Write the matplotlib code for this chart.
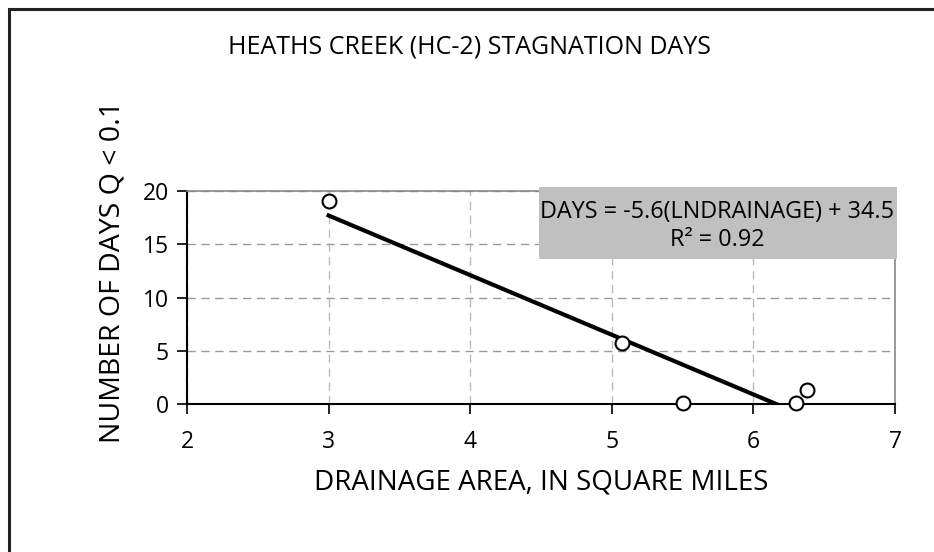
import matplotlib
matplotlib.use("Agg")
import matplotlib.pyplot as plt
from matplotlib.patches import Rectangle
import numpy as np

# drainage area (sq mi) vs number of days with Q < 0.1
drainage = [3.0, 5.07, 5.5, 6.3, 6.38]
days = [19.1, 5.75, 0.05, 0.05, 1.3]

# fitted line shown on the chart
fit_slope = -5.6
fit_intercept = 34.5
fit_x_start = 3.0

xticks = [2, 3, 4, 5, 6, 7]
yticks = [0, 5, 10, 15, 20]

plt.rcParams['font.family'] = ['Open Sans', 'DejaVu Sans']

fig = plt.figure(figsize=(9.34, 5.52), dpi=100)
ax = fig.add_axes([187 / 934, 1 - 404 / 552, (895 - 187) / 934, (404 - 191) / 552])

# outer frame (only top and left visible in the original)
fig.patches.append(Rectangle((9 / 934, -0.1), 1.2, 1 - 9 / 552 + 0.1,
                             transform=fig.transFigure, fill=False,
                             edgecolor='#222222', linewidth=2.2))

# trend line
fit_x_end = -fit_intercept / fit_slope
xs = np.array([fit_x_start, fit_x_end])
ax.plot(xs, fit_slope * xs + fit_intercept, color='black', linewidth=3, zorder=3)

ax.plot(drainage, days, linestyle='none', marker='o', markersize=10,
        markerfacecolor='white', markeredgecolor='black', markeredgewidth=1.5,
        zorder=4, clip_on=False)

ax.set_xlim(2, 7)
ax.set_ylim(0, 20)
ax.set_xticks(xticks)
ax.set_yticks(yticks)
ax.set_xticklabels([str(t) for t in xticks], fontsize=16.5)
ax.set_yticklabels([str(t) for t in yticks], fontsize=16.5)
ax.tick_params(axis='x', direction='out', length=7, width=1.2, pad=12)
ax.tick_params(axis='y', direction='out', length=7, width=1.2, pad=6)

ax.grid(True, axis='y', linestyle=(0, (6, 4)), color='#999999', linewidth=1)
ax.grid(True, axis='x', linestyle=(0, (6, 4)), color='#bbbbbb', linewidth=1)
ax.set_axisbelow(True)

ax.spines['left'].set_color('black')
ax.spines['left'].set_linewidth(1.5)
ax.spines['bottom'].set_color('black')
ax.spines['bottom'].set_linewidth(1.5)
ax.spines['top'].set_color('#888888')
ax.spines['right'].set_color('#888888')
ax.spines['top'].set_linewidth(1.2)
ax.spines['right'].set_linewidth(1.2)

ax.set_xlabel('DRAINAGE AREA, IN SQUARE MILES', fontsize=20)
ax.xaxis.set_label_coords(0.5, -(469 - 404) / 213)
ax.set_ylabel('NUMBER OF DAYS Q < 0.1', fontsize=20.5)
ax.yaxis.set_label_coords(-(187 - 127) / 708, (404 - 272) / 213)

fig.text(469 / 934, 1 - 47 / 552, 'HEATHS CREEK (HC-2) STAGNATION DAYS',
         ha='center', va='center', fontsize=18)

# equation box
fig.patches.append(Rectangle((539 / 934, 1 - 259 / 552), (897 - 539) / 934, (259 - 187) / 552,
                             transform=fig.transFigure, facecolor='#c0c0c0',
                             edgecolor='none', zorder=5))
fig.text(717 / 934, 1 - 212 / 552, 'DAYS = -5.6(LNDRAINAGE) + 34.5',
         ha='center', va='center', fontsize=16.8, zorder=6)
fig.text(717 / 934, 1 - 240 / 552, 'R² = 0.92',
         ha='center', va='center', fontsize=16.8, zorder=6)

fig.savefig('out.png', dpi=100)
